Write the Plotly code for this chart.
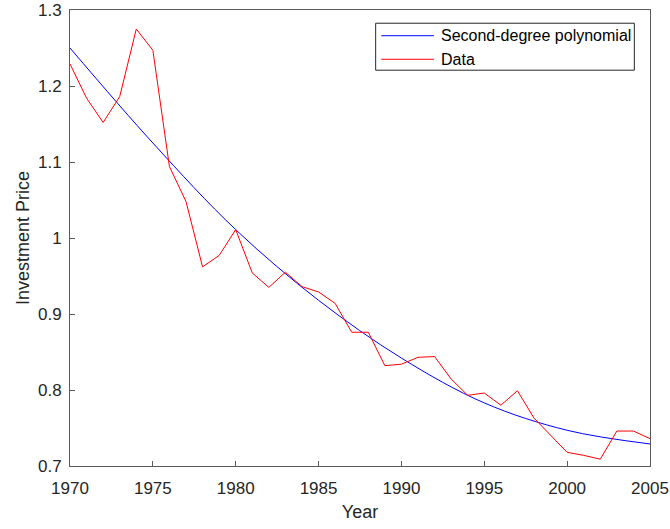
import plotly.graph_objects as go

years = list(range(1970, 2006))
price = [1.229, 1.184, 1.152, 1.186, 1.275, 1.247, 1.094, 1.048, 0.962, 0.977,
         1.011, 0.954, 0.935, 0.955, 0.936, 0.929, 0.914, 0.876, 0.876, 0.832,
         0.834, 0.843, 0.844, 0.8145, 0.793, 0.796, 0.780, 0.799, 0.763, 0.741,
         0.718, 0.714, 0.709, 0.746, 0.746, 0.736]

fit_years = [1970, 1975, 1980, 1985, 1990, 1995, 2000, 2005]
fit_values = [1.250, 1.125, 1.011, 0.918, 0.842, 0.783, 0.747, 0.729]

x_ticks = [1970, 1975, 1980, 1985, 1990, 1995, 2000, 2005]
y_ticks = [0.7, 0.8, 0.9, 1.0, 1.1, 1.2, 1.3]
y_tick_labels = ["0.7", "0.8", "0.9", "1", "1.1", "1.2", "1.3"]

series_names = ["Second-degree polynomial", "Data"]
series_colors = ["#0000ff", "#ff0000"]

fig = go.Figure()
fig.add_trace(go.Scatter(x=fit_years, y=fit_values, mode="lines",
                         line=dict(color=series_colors[0], width=1, shape="spline", smoothing=1.0),
                         name=series_names[0]))
fig.add_trace(go.Scatter(x=years, y=price, mode="lines",
                         line=dict(color=series_colors[1], width=1),
                         name=series_names[1]))

# manual MATLAB-style legend (paper coordinates)
fig.add_shape(type="rect", xref="paper", yref="paper", x0=0.527, x1=0.973, y0=0.868, y1=0.971,
              line=dict(color="#262626", width=1), fillcolor="white", layer="above")
legend_rows_y = [0.9436, 0.8919]
for name, color, ry in zip(series_names, series_colors, legend_rows_y):
    fig.add_shape(type="line", xref="paper", yref="paper", x0=0.5367, x1=0.6274, y0=ry, y1=ry,
                  line=dict(color=color, width=1), layer="above")
    fig.add_annotation(xref="paper", yref="paper", x=0.636, y=ry, xanchor="left", yanchor="middle",
                       text=name, showarrow=False, font=dict(size=16, color="#000000"))

axis_color = "#262626"
line_color = "#5a5a5a"
fig.update_layout(
    width=670, height=529,
    margin=dict(l=69.5, r=19.5, t=10, b=63, autoexpand=False),
    paper_bgcolor="white", plot_bgcolor="white",
    font=dict(family="Liberation Sans, Arial, sans-serif", size=17, color=axis_color),
    showlegend=False,
    xaxis=dict(range=[1970, 2005], tickvals=x_ticks, ticks="inside", ticklen=5,
               showline=True, mirror=True, linecolor=line_color, linewidth=1,
               tickcolor=line_color, showgrid=False, zeroline=False, automargin=False,
               ticklabelstandoff=7,
               title=dict(text="Year", font=dict(size=18), standoff=7)),
    yaxis=dict(range=[0.7, 1.3], tickvals=y_ticks, ticktext=y_tick_labels,
               ticks="inside", ticklen=5,
               showline=True, mirror=True, linecolor=line_color, linewidth=1,
               tickcolor=line_color, showgrid=False, zeroline=False, automargin=False,
               ticklabelstandoff=4,
               title=dict(text="Investment Price", font=dict(size=18), standoff=3)),
)

fig.write_html("out.html", config={"displayModeBar": False},
               post_script="document.body.style.margin='0';")
